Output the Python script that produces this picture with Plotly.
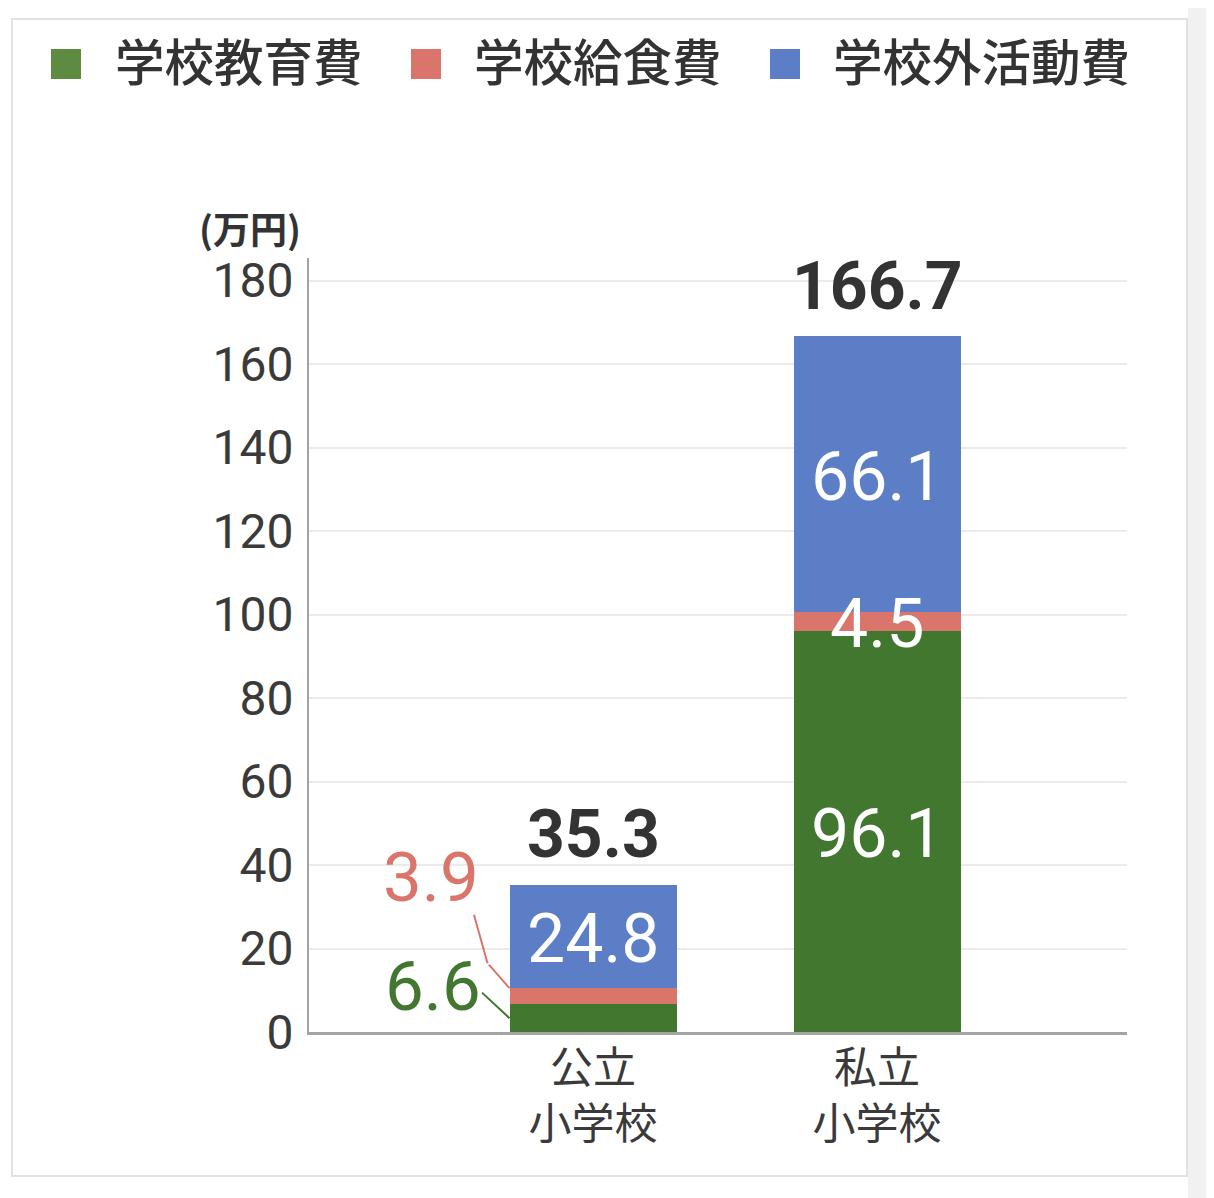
import plotly.graph_objects as go

# ---------------- data ----------------
categories = ["公立<br>小学校", "私立<br>小学校"]
series_names = ["学校教育費", "学校給食費", "学校外活動費"]
edu = [6.6, 96.1]
lunch = [3.9, 4.5]
outside = [24.8, 66.1]
totals = [35.3, 166.7]
y_ticks = [0, 20, 40, 60, 80, 100, 120, 140, 160, 180]
unit_label = "(万円)"

# ---------------- style ----------------
PAGE_W, PAGE_H = 1214, 1198
BODY = 8                      # default page margin of the html body
W, H = PAGE_W - BODY, PAGE_H - BODY
# plot area edges in page pixels
PL, PR, PT, PB = 309, 1127, 258, 1032
L, R, T, B = PL - BODY, W - (PR - BODY), PT - BODY, H - (PB - BODY)
colors = ["#427730", "#D9756B", "#5C7EC7"]
legend_colors = ["#5E8B42", "#D9756B", "#5C7EC7"]
NUM = "Roboto, Noto Sans CJK JP, sans-serif"
CJK = "Noto Sans CJK JP, sans-serif"
bar_w = 0.588


def px2x(px):
    return (px - PL) / (PR - PL)


def py2y(py):
    return (PB - py) / (PB - PT)


series = [edu, lunch, outside]
fig = go.Figure()
for name, vals, col in zip(series_names, series, colors):
    fig.add_trace(go.Bar(
        x=list(range(len(categories))), y=vals, name=name, width=bar_w,
        marker=dict(color=col, line=dict(width=0)), showlegend=False,
        hoverinfo="skip"))

ann = []
# inside value labels (segment midpoints) and totals
for i in range(len(categories)):
    base = 0
    for s, vals in enumerate(series):
        v = vals[i]
        mid = base + v / 2
        if not (i == 0 and s < 2):
            ann.append(dict(x=i, y=mid, xref="x", yref="y", text=f"{v}",
                            showarrow=False, xanchor="center", yanchor="middle", yshift=-3,
                            font=dict(family=NUM, size=68, color="white")))
        base += v
    ann.append(dict(x=i, y=totals[i], xref="x", yref="y", text=f"{totals[i]}",
                    showarrow=False, xanchor="center", yanchor="middle", yshift=50,
                    font=dict(family=NUM, size=66, color="#333333", weight="bold")))

# outside labels for the small public segments with leader lines
left_edge = 0 - bar_w / 2
edu_mid = edu[0] / 2
lunch_top = edu[0] + lunch[0]
ann.append(dict(x=left_edge, y=lunch_top, xref="x", yref="y", text=f"{lunch[0]}",
                showarrow=False, xanchor="right", yanchor="middle", xshift=-29, yshift=111,
                font=dict(family=NUM, size=69, color=colors[1])))
ann.append(dict(x=left_edge, y=edu_mid, xref="x", yref="y", text=f"{edu[0]}",
                showarrow=False, xanchor="right", yanchor="middle", xshift=-27, yshift=32,
                font=dict(family=NUM, size=69, color=colors[0])))
# leader lines
ann.append(dict(x=left_edge, y=lunch_top, xref="x", yref="y", text="", showarrow=True,
                arrowhead=0, arrowwidth=2, arrowcolor=colors[1], ax=-22, ay=-25))
ann.append(dict(x=left_edge, y=lunch_top, xref="x", yref="y", text="", showarrow=True,
                arrowhead=0, arrowwidth=2, arrowcolor=colors[1], ax=-14, ay=-50,
                xshift=-22, yshift=25))
ann.append(dict(x=left_edge, y=edu_mid, xref="x", yref="y", text="", showarrow=True,
                arrowhead=0, arrowwidth=2, arrowcolor=colors[0], ax=-29, ay=-27))

# unit label
ann.append(dict(x=px2x(250), y=py2y(228), xref="paper", yref="paper", text=unit_label,
                showarrow=False, xanchor="center", yanchor="middle",
                font=dict(family=CJK, size=37, color="#333333", weight="bold")))

# manual legend
shapes = []
leg_sq_x = [51, 411, 770]
leg_tx_x = [113, 472, 831]
for name, col, sx, tx in zip(series_names, legend_colors, leg_sq_x, leg_tx_x):
    shapes.append(dict(type="rect", xref="paper", yref="paper",
                       x0=px2x(sx), x1=px2x(sx + 30), y0=py2y(79), y1=py2y(49),
                       fillcolor=col, line=dict(width=0)))
    ann.append(dict(x=px2x(tx), y=py2y(59), xref="paper", yref="paper", text=name,
                    showarrow=False, xanchor="left", yanchor="middle",
                    font=dict(family=CJK, size=49.5, color="#333333", weight=500)))

# card frame and right-hand shade
shapes.insert(0, dict(type="rect", xref="paper", yref="paper", layer="below",
                      x0=px2x(1188), x1=px2x(PAGE_W + 2), y0=py2y(PAGE_H + 2), y1=py2y(0),
                      fillcolor="#F1F1F1", line=dict(width=0)))
shapes.insert(1, dict(type="rect", xref="paper", yref="paper", layer="below",
                      x0=px2x(12), x1=px2x(1187), y0=py2y(1176), y1=py2y(19),
                      fillcolor="rgba(0,0,0,0)", line=dict(color="#E2E2E2", width=2)))

fig.update_layout(
    width=W, height=H, barmode="stack",
    margin=dict(l=L, r=R, t=T, b=B, autoexpand=False),
    paper_bgcolor="white", plot_bgcolor="white",
    font=dict(family=NUM, color="#333333"),
    annotations=ann, shapes=shapes, showlegend=False,
    xaxis=dict(tickmode="array", tickvals=list(range(len(categories))), ticktext=categories,
               range=[-1.0, 1.88], showline=True, linecolor="#A3A3A3", linewidth=3,
               showgrid=False, zeroline=False, ticks="", ticklabelstandoff=-4,
               tickfont=dict(family=CJK, size=43, color="#3A3A3A")),
    yaxis=dict(range=[0, 185.4], tickmode="array", tickvals=y_ticks,
               showline=True, linecolor="#A3A3A3", linewidth=2,
               showgrid=True, gridcolor="#EBEBEB", gridwidth=2, zeroline=False,
               ticks="", ticklabelstandoff=4,
               tickfont=dict(family=NUM, size=48, color="#3A3A3A")),
)

fig.write_html("out.html")
